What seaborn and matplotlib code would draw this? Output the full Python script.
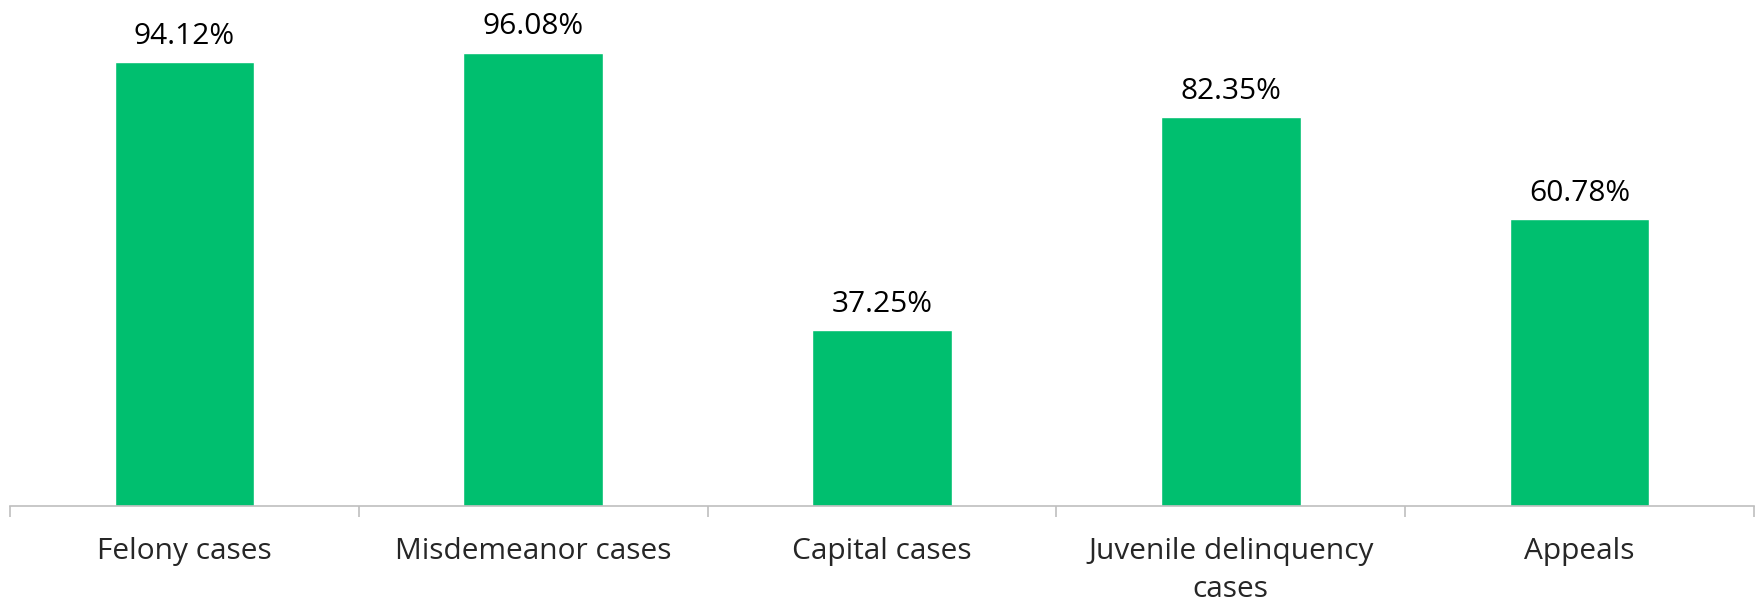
import numpy as np
import pandas as pd
import matplotlib
matplotlib.use("Agg")
import matplotlib.pyplot as plt
import seaborn as sns
from matplotlib.ticker import FixedLocator

categories = ["Felony cases", "Misdemeanor cases", "Capital cases",
              "Juvenile delinquency\ncases", "Appeals"]
values = [94.12, 96.08, 37.25, 82.35, 60.78]

df = pd.DataFrame({"category": categories, "value": values})

sns.set_style("white")
plt.rcParams["font.family"] = ["Open Sans", "DejaVu Sans"]

fig = plt.figure(figsize=(17.55, 6.11), dpi=100)
ax = fig.add_axes([10 / 1755, 105 / 611, 1744 / 1755, 472 / 611])

sns.barplot(data=df, x="category", y="value", color="#00BF6F",
            width=0.4, saturation=1, ax=ax)

# value labels on top of bars
ax.bar_label(ax.containers[0], labels=[f"{v:.2f}%" for v in values],
             padding=8, fontsize=21.5, color="black")

ax.set_ylim(0, 100)
ax.set_xlim(-0.5, len(categories) - 0.5)
ax.set_yticks([])
ax.set_xlabel("")
ax.set_ylabel("")

for side in ["top", "right", "left"]:
    ax.spines[side].set_visible(False)
ax.spines["bottom"].set_color("#bfbfbf")
ax.spines["bottom"].set_linewidth(1.2)

# separators between categories
ax.xaxis.set_minor_locator(FixedLocator(np.arange(-0.5, len(categories), 1.0)))
ax.tick_params(axis="x", which="minor", length=8, width=1.2, color="#bfbfbf",
               direction="out", bottom=True)
ax.tick_params(axis="x", which="major", length=0, pad=22, labelsize=21.5)
for lbl in ax.get_xticklabels():
    lbl.set_linespacing(1.45)

fig.savefig("out.png", dpi=100)
